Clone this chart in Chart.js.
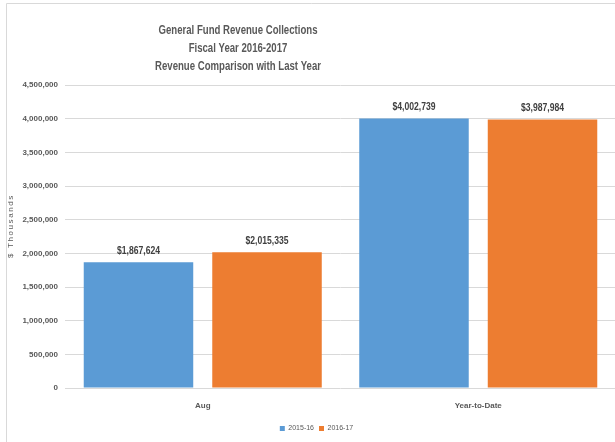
<!DOCTYPE html>
<html>
<head>
<meta charset="utf-8">
<title>General Fund Revenue Collections</title>
<script src="https://cdn.jsdelivr.net/npm/chart.js@4"></script>
<style>
  html, body { margin: 0; padding: 0; background: #fff; }
  #wrap { position: relative; width: 615px; height: 442px; overflow: hidden; }
  #chart { position: absolute; left: 0; top: 0; }
</style>
</head>
<body>
<div id="wrap"><canvas id="chart" width="617" height="442"></canvas></div>
<script>
// chart data
const categories = ['Aug', 'Year-to-Date'];
const seriesNames = ['2015-16', '2016-17'];
const values1516 = [1867624, 4002739];
const values1617 = [2015335, 3987984];
const seriesColors = ['#5B9BD5', '#ED7D31'];
const titleLines = ['General Fund Revenue Collections', 'Fiscal Year 2016-2017', 'Revenue Comparison with Last Year'];
const yAxisTitle = '$ Thousands';
const yMax = 4500000;
const yStep = 500000;

const FONT = "'Liberation Sans', Arial, sans-serif";
const GREY = '#595959';

function fmt(v){ return Number(v).toLocaleString('en-US'); }

// draws text squeezed horizontally (the original uses a narrow face)
function narrowText(ctx, text, x, y, sx){
    ctx.save();
    ctx.translate(x, y);
    ctx.scale(sx, 1);
    ctx.fillText(text, 0, 0);
    ctx.restore();
}

// frame, title and axis title
const framePlugin = {
    id: 'frame',
    beforeDraw(chart){
        const ctx = chart.ctx;
        ctx.save();
        ctx.strokeStyle = '#d9d9d9';
        ctx.lineWidth = 1;
        ctx.beginPath();
        ctx.moveTo(6.5, 442);
        ctx.lineTo(6.5, 3.5);
        ctx.lineTo(617, 3.5);
        ctx.stroke();
        ctx.restore();
    },
    afterDraw(chart){
        const ctx = chart.ctx;
        ctx.save();
        ctx.fillStyle = GREY;
        ctx.font = 'bold 12px ' + FONT;
        ctx.textAlign = 'center';
        ctx.textBaseline = 'middle';
        titleLines.forEach((t, i) => narrowText(ctx, t, 238, 31 + i * 18, 0.8));
        // y axis title
        ctx.translate(11, 226);
        ctx.rotate(-Math.PI / 2);
        ctx.font = '8px ' + FONT;
        ctx.letterSpacing = '1.6px';
        ctx.fillText(yAxisTitle, 0, 0);
        ctx.restore();
    }
};

// value labels above bars
const valueLabels = {
    id: 'valueLabels',
    afterDatasetsDraw(chart){
        const ctx = chart.ctx;
        ctx.save();
        ctx.fillStyle = '#404040';
        ctx.font = 'bold 10px ' + FONT;
        ctx.textAlign = 'center';
        ctx.textBaseline = 'bottom';
        chart.data.datasets.forEach((ds, di) => {
            chart.getDatasetMeta(di).data.forEach((bar, i) => {
                narrowText(ctx, '$' + fmt(ds.data[i]), bar.x, bar.y - 6, 0.86);
            });
        });
        ctx.restore();
    }
};

new Chart(document.getElementById('chart'), {
    type: 'bar',
    data: {
        labels: categories,
        datasets: [
            { label: seriesNames[0], data: values1516, backgroundColor: seriesColors[0] },
            { label: seriesNames[1], data: values1617, backgroundColor: seriesColors[1] }
        ]
    },
    options: {
        responsive: false,
        animation: false,
        layout: { padding: { top: 85, right: 1, bottom: 0, left: 17 } },
        datasets: { bar: { categoryPercentage: 0.933, barPercentage: 0.852 } },
        plugins: {
            legend: {
                position: 'bottom',
                labels: {
                    boxWidth: 5, boxHeight: 5, padding: 5,
                    color: GREY,
                    font: { family: FONT, size: 7 }
                }
            },
            tooltip: { enabled: false }
        },
        scales: {
            x: {
                grid: { display: false, drawTicks: false },
                border: { display: false },
                ticks: { color: GREY, padding: 13, font: { family: FONT, size: 8, weight: 'bold' } },
                afterFit(scale){ scale.height = 32; }
            },
            y: {
                min: 0, max: yMax,
                grid: { color: '#d9d9d9', drawTicks: false },
                border: { display: false },
                ticks: {
                    stepSize: yStep, padding: 7, color: GREY,
                    font: { family: FONT, size: 8, weight: 'bold' },
                    callback: v => fmt(v)
                },
                afterFit(scale){ scale.width = 48; }
            }
        }
    },
    plugins: [framePlugin, valueLabels]
});
</script>
</body>
</html>
